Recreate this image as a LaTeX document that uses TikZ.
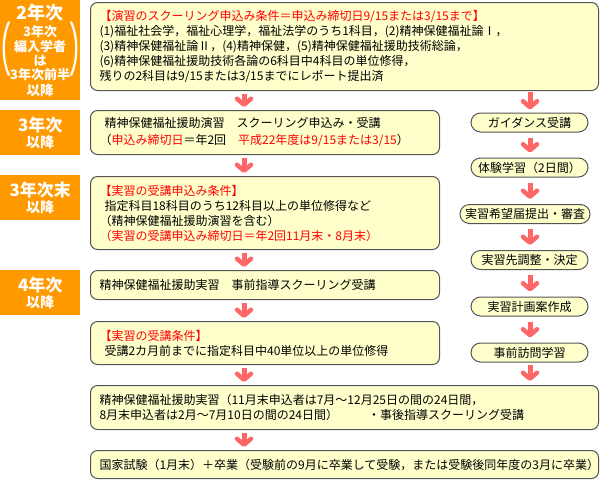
\documentclass[tikz,border=0pt]{standalone}
\usepackage{fontspec}
\newfontfamily\jp{Noto Sans CJK JP}
\usetikzlibrary{arrows.meta}
\definecolor{boxfill}{HTML}{FFFFCC}
\definecolor{boxline}{HTML}{555555}
\definecolor{orng}{HTML}{FF9900}
\definecolor{arrowcol}{HTML}{FF6666}
\definecolor{redtxt}{HTML}{FF0000}
\newcommand{\rd}[1]{\textcolor{redtxt}{#1}}
\newcommand{\fsz}[2]{{\fontsize{#1}{#1}\selectfont #2}}
\tikzset{
  box/.style={draw=boxline, fill=boxfill, line width=1pt, rounded corners=7pt,
    anchor=north west, inner xsep=9pt, inner ysep=0pt, align=left,
    font=\jp\fontsize{12}{15}\selectfont},
  pill/.style={draw=boxline, fill=boxfill, line width=1pt, rounded corners=9.5pt,
    minimum width=117pt, minimum height=19pt, inner sep=0pt,
    font=\jp\fontsize{12}{14}\selectfont},
  lab/.style={fill=orng, anchor=north west, minimum width=80pt, inner sep=0pt,
    align=center, text=white, font=\jp\bfseries},
  arr/.style={draw=arrowcol, line width=5pt,
    -{Straight Barb[length=6pt,width=14pt,line width=4.5pt,round]},
    shorten <=3pt, shorten >=3pt},
  paren/.style={draw=white, line width=2.2pt, line cap=round}
}
\begin{document}
\begin{tikzpicture}[x=1pt,y=-1pt]
\useasboundingbox (0,0) rectangle (600,480);

% left labels
\node[lab, minimum height=100pt] (l1) at (0,0)
  {\fsz{18}{2年次}\\[3pt]
   \fsz{13}{3年次}\\[2pt] \fsz{13}{編入学者}\\[2pt] \fsz{13}{は}\\[2pt]
   \fsz{13}{3年次前半}\\[2pt] \fsz{13.5}{以降}};
\draw[paren] (9,22) .. controls (2,36) and (2,61) .. (9,75);
\draw[paren] (71,22) .. controls (78,36) and (78,61) .. (71,75);
\node[lab, minimum height=45pt] (l2) at (0,110)
  {\fsz{17}{3年次}\\[2pt] \fsz{14}{以降}};
\node[lab, minimum height=45pt] (l3) at (0,175)
  {\fsz{17}{3年次末}\\[2pt] \fsz{14}{以降}};
\node[lab, minimum height=45pt] (l4) at (0,270)
  {\fsz{17}{4年次}\\[2pt] \fsz{14}{以降}};

% main boxes
\node[box, text width=490pt, minimum height=88pt] (b1) at (90,2)
  {\rd{【演習のスクーリング申込み条件＝申込み締切日9/15または3/15まで】}\\
   (1)福祉社会学，福祉心理学，福祉法学のうち1科目，(2)精神保健福祉論Ⅰ，\\
   (3)精神保健福祉論Ⅱ，(4)精神保健，(5)精神保健福祉援助技術総論，\\
   (6)精神保健福祉援助技術各論の6科目中4科目の単位修得，\\
   残りの2科目は9/15または3/15までにレポート提出済};
\node[box, text width=331pt, minimum height=44pt] (b2) at (90,110)
  {\hspace*{5pt}精神保健福祉援助演習　スクーリング申込み・受講\\[2pt]
   （\rd{申込み締切日}＝年2回　\rd{平成22年度は9/15または3/15}）};
\node[box, text width=331pt, minimum height=73pt] (b3) at (90,176)
  {\rd{【実習の受講申込み条件】}\\
   \hspace*{5pt}指定科目18科目のうち12科目以上の単位修得など\\
   （精神保健福祉援助演習を含む）\\
   \rd{（実習の受講申込み締切日＝年2回11月末・8月末）}};
\node[box, text width=331pt, minimum height=29pt] (b4) at (90,270)
  {精神保健福祉援助実習　事前指導スクーリング受講};
\node[box, text width=331pt, minimum height=43pt] (b5) at (90,321)
  {\rd{【実習の受講条件】}\\
   \hspace*{5pt}受講2カ月前までに指定科目中40単位以上の単位修得};
\node[box, text width=490pt, minimum height=44pt] (b6) at (90,385)
  {精神保健福祉援助実習（11月末申込者は7月～12月25日の間の24日間，\\
   8月末申込者は2月～7月10日の間の24日間）\hspace{30pt}・事後指導スクーリング受講};
\node[box, text width=490pt, minimum height=28pt] (b7) at (90,450)
  {国家試験（1月末）＋卒業（受験前の9月に卒業して受験，または受験後同年度の3月に卒業）};

% right column
\node[pill] (p1) at (529.5,122.5) {ガイダンス受講};
\node[pill] (p2) at (529.5,167.5) {体験学習（2日間）};
\node[pill, minimum width=130pt] (p3) at (525,214) {実習希望届提出・審査};
\node[pill] (p4) at (529.5,260) {実習先調整・決定};
\node[pill] (p5) at (529.5,306.5) {実習計画案作成};
\node[pill] (p6) at (529.5,352.5) {事前訪問学習};

% arrow columns
\coordinate (ax) at (244,0);
\coordinate (rx) at (530,0);

\draw[arr] (b1.south -| ax) -- (b2.north -| ax);
\draw[arr] (b2.south -| ax) -- (b3.north -| ax);
\draw[arr] (b3.south -| ax) -- (b4.north -| ax);
\draw[arr] (b4.south -| ax) -- (b5.north -| ax);
\draw[arr] (b5.south -| ax) -- (b6.north -| ax);
\draw[arr] (b6.south -| ax) -- (b7.north -| ax);

\draw[arr, shorten <=1pt] (b1.south -| rx) -- (p1.north -| rx);
\draw[arr, shorten <=5pt, shorten >=5pt] (p1.south -| rx) -- (p2.north -| rx);
\draw[arr, shorten <=5pt, shorten >=5pt] (p2.south -| rx) -- (p3.north -| rx);
\draw[arr, shorten <=5pt, shorten >=5pt] (p3.south -| rx) -- (p4.north -| rx);
\draw[arr, shorten <=5pt, shorten >=5pt] (p4.south -| rx) -- (p5.north -| rx);
\draw[arr, shorten <=5pt, shorten >=5pt] (p5.south -| rx) -- (p6.north -| rx);
\draw[arr, shorten <=2pt, shorten >=4pt] (p6.south -| rx) -- (b6.north -| rx);
\end{tikzpicture}
\end{document}
